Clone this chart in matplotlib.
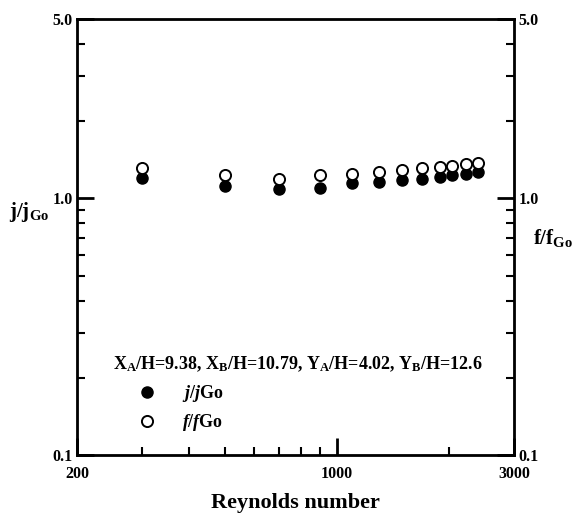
import numpy as np
import matplotlib
matplotlib.use('Agg')
import matplotlib.pyplot as plt
from matplotlib.ticker import FixedLocator, FixedFormatter, NullFormatter

plt.rcParams['font.family'] = 'Liberation Serif'
plt.rcParams['font.weight'] = 'bold'
plt.rcParams['mathtext.fontset'] = 'custom'
plt.rcParams['mathtext.rm'] = 'Liberation Serif:bold'
plt.rcParams['mathtext.it'] = 'Liberation Serif:italic:bold'
plt.rcParams['mathtext.bf'] = 'Liberation Serif:bold'

# data
reynolds = [300, 500, 700, 900, 1100, 1300, 1500, 1700, 1900, 2040, 2230, 2400]
j_ratio = [1.20, 1.12, 1.09, 1.10, 1.145, 1.16, 1.18, 1.19, 1.215, 1.233, 1.25, 1.27]
f_ratio = [1.31, 1.233, 1.187, 1.233, 1.25, 1.27, 1.29, 1.31, 1.33, 1.34, 1.36, 1.37]

x_ticks = [200, 1000, 3000]
x_labels = ['200', '1000', '3000']
x_minor = [300, 400, 500, 600, 700, 800, 900, 2000]
y_ticks = [0.1, 1.0, 5.0]
y_labels = ['0.1', '1.0', '5.0']
y_minor = [0.2, 0.3, 0.4, 0.5, 0.6, 0.7, 0.8, 0.9, 2, 3, 4]

fig = plt.figure(figsize=(5.79, 5.16), dpi=100)
ax = fig.add_axes([0.133, 0.118, 0.755, 0.845])

ax.plot(reynolds, j_ratio, 'o', color='black', markersize=8, label=r'$j/j$Go')
ax.plot(reynolds, f_ratio, 'o', markerfacecolor='white', markeredgecolor='black',
        markeredgewidth=1.4, markersize=8, label=r'$f/f$Go')

ax.set_xscale('log')
ax.set_yscale('log')
ax.set_xlim(200, 3000)
ax.set_ylim(0.1, 5.0)

ax.xaxis.set_major_locator(FixedLocator(x_ticks))
ax.xaxis.set_major_formatter(FixedFormatter(x_labels))
ax.xaxis.set_minor_locator(FixedLocator(x_minor))
ax.xaxis.set_minor_formatter(NullFormatter())
ax.yaxis.set_major_locator(FixedLocator(y_ticks))
ax.yaxis.set_major_formatter(FixedFormatter(y_labels))
ax.yaxis.set_minor_locator(FixedLocator(y_minor))
ax.yaxis.set_minor_formatter(NullFormatter())

for s in ax.spines.values():
    s.set_linewidth(2)
ax.tick_params(which='major', direction='in', length=12, width=2, labelsize=11.5, pad=3)
ax.tick_params(axis='x', which='major', pad=8)
ax.tick_params(which='minor', direction='in', length=6, width=1.5)

ax2 = ax.twinx()
ax2.set_yscale('log')
ax2.set_ylim(0.1, 5.0)
ax2.yaxis.set_major_locator(FixedLocator(y_ticks))
ax2.yaxis.set_major_formatter(FixedFormatter(y_labels))
ax2.yaxis.set_minor_locator(FixedLocator(y_minor))
ax2.yaxis.set_minor_formatter(NullFormatter())
ax2.tick_params(which='major', direction='in', length=12, width=2, labelsize=11.5, pad=3)
ax2.tick_params(which='minor', direction='in', length=6, width=1.5)

fig.text(0.511, 1 - 503 / 516, 'Reynolds number', fontsize=16, fontweight='bold',
         ha='center', va='center')
fig.text(0.016, 1 - 212 / 516, r'$\mathrm{j/j_{Go}}$', fontsize=15, va='center', ha='left')
fig.text(0.92, 1 - 238 / 516, r'$\mathrm{f/f_{Go}}$', fontsize=15, va='center', ha='left')

ax.text(0.082, 0.209, r'X$_\mathrm{A}$/H=9.38, X$_\mathrm{B}$/H=10.79, Y$_\mathrm{A}$/H=4.02, Y$_\mathrm{B}$/H=12.6',
        transform=ax.transAxes, fontsize=13, va='center', ha='left')
ax.legend(loc='upper left', bbox_to_anchor=(0.118, 0.165), frameon=False, fontsize=13,
          handletextpad=0.95, labelspacing=0.45, borderaxespad=0, borderpad=0)

fig.savefig('out.png', dpi=100)
